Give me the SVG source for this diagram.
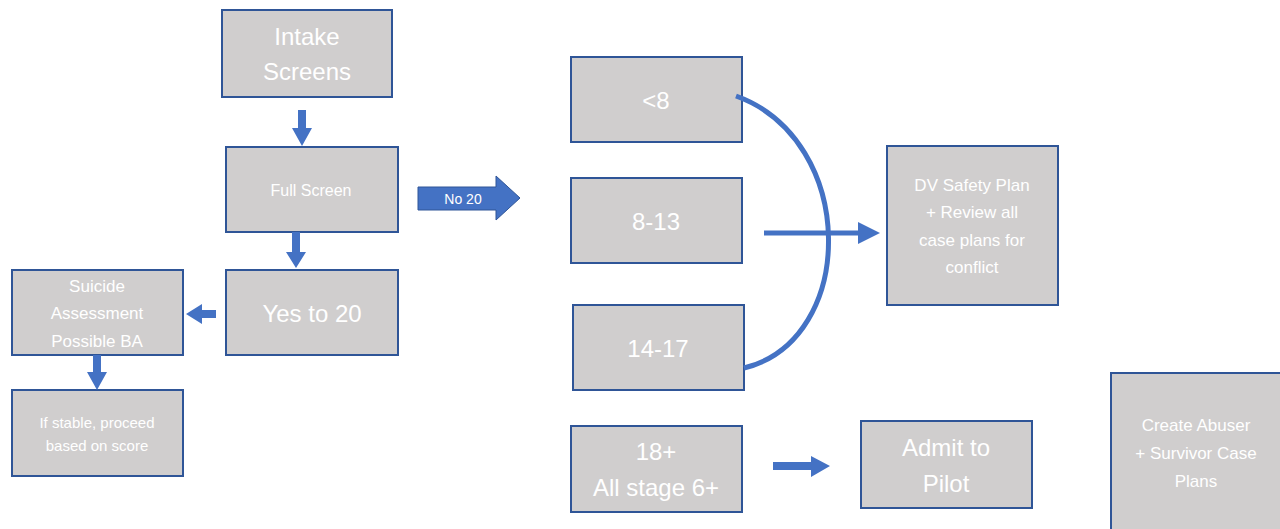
<svg xmlns="http://www.w3.org/2000/svg" width="1280" height="529" viewBox="0 0 1280 529">
<defs>
<style>
.box{fill:#D0CECE;stroke:#2F5597;stroke-width:2}
.t{font-family:"Liberation Sans",Arial,sans-serif;fill:#FFFFFF;text-anchor:middle}
.arr{fill:#4472C4}
.ln{stroke:#4472C4;stroke-width:5;fill:none}
</style>
</defs>
<rect width="1280" height="529" fill="#FFFFFF"/>
<g id="intake"><rect class="box" x="222" y="10" width="170" height="87"/><text class="t" font-size="24" x="307" y="45">Intake</text><text class="t" font-size="24" x="307" y="80">Screens</text></g>
<g id="full"><rect class="box" x="226" y="147" width="172" height="85"/><text class="t" font-size="16" x="311" y="196">Full Screen</text></g>
<g id="yes20"><rect class="box" x="226" y="270" width="172" height="85"/><text class="t" font-size="24" x="312" y="322">Yes to 20</text></g>
<g id="suicide"><rect class="box" x="12" y="270" width="171" height="85"/><text class="t" font-size="17" x="97" y="292">Suicide</text><text class="t" font-size="17" x="97" y="319">Assessment</text><text class="t" font-size="17" x="97" y="347">Possible BA</text></g>
<g id="stable"><rect class="box" x="12" y="390" width="171" height="86"/><text class="t" font-size="15" x="97" y="428">If stable, proceed</text><text class="t" font-size="15" x="97" y="451">based on score</text></g>
<g id="lt8"><rect class="box" x="571" y="57" width="171" height="85"/><text class="t" font-size="24" x="656" y="109">&lt;8</text></g>
<g id="r813"><rect class="box" x="571" y="178" width="171" height="85"/><text class="t" font-size="24" x="656" y="230">8-13</text></g>
<g id="r1417"><rect class="box" x="573" y="305" width="171" height="85"/><text class="t" font-size="24" x="658" y="357">14-17</text></g>
<g id="dv"><rect class="box" x="887" y="146" width="171" height="159"/><text class="t" font-size="17" x="972" y="191">DV Safety Plan</text><text class="t" font-size="17" x="972" y="218">+ Review all</text><text class="t" font-size="17" x="972" y="246">case plans for</text><text class="t" font-size="17" x="972" y="273">conflict</text></g>
<g id="r18"><rect class="box" x="571" y="426" width="171" height="86"/><text class="t" font-size="24" x="656" y="460">18+</text><text class="t" font-size="24" x="656" y="496">All stage 6+</text></g>
<g id="admit"><rect class="box" x="861" y="421" width="171" height="87"/><text class="t" font-size="24" x="946" y="456">Admit to</text><text class="t" font-size="24" x="946" y="492">Pilot</text></g>
<g id="create"><rect class="box" x="1111" y="373" width="180" height="170"/><text class="t" font-size="17" x="1196" y="431">Create Abuser</text><text class="t" font-size="17" x="1196" y="459">+ Survivor Case</text><text class="t" font-size="17" x="1196" y="487">Plans</text></g>
<g id="connectors">
<polygon class="arr" points="298,110 306,110 306,128 312,128 302,146 292,128 298,128"/>
<polygon class="arr" points="292,232 300,232 300,252 306,252 296,268 286,252 292,252"/>
<polygon class="arr" points="216,310 216,318 202,318 202,324 186,314 202,304 202,310"/>
<polygon class="arr" points="93,355 101,355 101,372 107,372 97,390 87,372 93,372"/>
<polygon points="418,187 496,187 496,176 520,198 496,220 496,210 418,210" fill="#4472C4" stroke="#2F5597" stroke-width="1"/>
<text class="t" font-size="14" x="463" y="204">No 20</text>
<path class="ln" d="M736,96 C858,140 858,340 744,368"/>
<line class="ln" x1="764" y1="233" x2="862" y2="233"/>
<polygon class="arr" points="858,222 880,233 858,244"/>
<polygon class="arr" points="773,462 811,462 811,456 830,466 811,477 811,470 773,470"/>
</g>
</svg>
